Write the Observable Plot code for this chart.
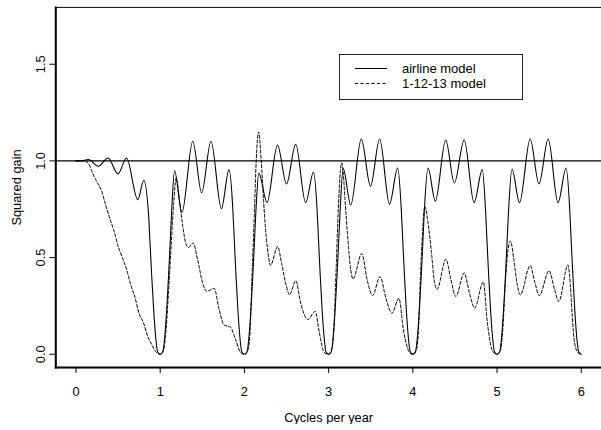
<!DOCTYPE html>
<html>
<head>
<meta charset="utf-8">
<script src="https://cdn.jsdelivr.net/npm/d3@7"></script>
<script src="https://cdn.jsdelivr.net/npm/@observablehq/plot@0.6"></script>
<style>
  html, body { margin: 0; padding: 0; background: #fff; }
  #wrap { position: relative; width: 601px; height: 430px; overflow: hidden; font-family: "Liberation Sans", Arial, sans-serif; }
  #legend { position: absolute; left: 339px; top: 54px; width: 182px; height: 44px; border: 1px solid #222; background: #fff; }
  #legend svg { display: block; }
  #chart svg { display: block; }
</style>
</head>
<body>
<div id="wrap"><div id="chart"></div><div id="legend"></div></div>
<script>
// ---- data ----
const seriesNames = ["airline model", "1-12-13 model"];
const xTicks = [0, 1, 2, 3, 4, 5, 6];
const yTicks = [0, 0.5, 1, 1.5];
const refLevel = [1];

const airlineFreq = [0, 0.05, 0.15, 0.265, 0.38, 0.5, 0.6, 0.734, 0.805,
  0.8625, 0.88, 0.9, 0.92, 0.942, 0.97, 1.0, 1.03, 1.058, 1.08, 1.1, 1.12, 1.1375,
  1.17, 1.258, 1.387, 1.492, 1.603, 1.727, 1.817,
  1.8625, 1.88, 1.9, 1.92, 1.942, 1.97, 2.0, 2.03, 2.058, 2.08, 2.1, 2.12, 2.1375,
  2.172, 2.268, 2.393, 2.5, 2.609, 2.727, 2.82,
  2.8625, 2.88, 2.9, 2.92, 2.942, 2.97, 3.0, 3.03, 3.058, 3.08, 3.1, 3.12, 3.1375,
  3.173, 3.263, 3.388, 3.497, 3.606, 3.723, 3.82,
  3.8625, 3.88, 3.9, 3.92, 3.942, 3.97, 4.0, 4.03, 4.058, 4.08, 4.1, 4.12, 4.1375,
  4.18, 4.267, 4.39, 4.493, 4.61, 4.727, 4.825,
  4.8625, 4.88, 4.9, 4.92, 4.942, 4.97, 5.0, 5.03, 5.058, 5.08, 5.1, 5.12, 5.1375,
  5.177, 5.267, 5.393, 5.498, 5.607, 5.724, 5.82,
  5.8625, 5.88, 5.9, 5.92, 5.942, 5.97, 6.0];
const airlineGain = [1.0, 1.0, 1.007, 0.972, 1.015, 0.933, 1.015, 0.80, 0.90,
  0.72, 0.57, 0.40, 0.25, 0.11, 0.012, 0, 0.012, 0.11, 0.25, 0.41, 0.59, 0.75,
  0.949, 0.733, 1.102, 0.835, 1.102, 0.753, 0.955,
  0.75, 0.59, 0.41, 0.25, 0.11, 0.012, 0, 0.012, 0.11, 0.25, 0.41, 0.59, 0.75,
  0.937, 0.784, 1.082, 0.881, 1.086, 0.784, 0.941,
  0.75, 0.59, 0.41, 0.25, 0.11, 0.012, 0, 0.012, 0.11, 0.25, 0.41, 0.59, 0.75,
  0.96, 0.772, 1.113, 0.869, 1.113, 0.776, 0.963,
  0.75, 0.59, 0.41, 0.25, 0.11, 0.012, 0, 0.012, 0.11, 0.25, 0.41, 0.59, 0.75,
  0.963, 0.792, 1.108, 0.886, 1.108, 0.784, 0.955,
  0.75, 0.59, 0.41, 0.25, 0.11, 0.012, 0, 0.012, 0.11, 0.25, 0.41, 0.59, 0.75,
  0.958, 0.784, 1.113, 0.881, 1.113, 0.784, 0.963,
  0.75, 0.59, 0.41, 0.25, 0.11, 0.012, 0];

const m1213Freq = [0, 0.1, 0.15, 0.2, 0.25, 0.3, 0.35, 0.4, 0.45, 0.5, 0.55, 0.6, 0.65, 0.7, 0.75, 0.8, 0.85, 0.9, 0.95, 1.0,
  1.04, 1.07, 1.1, 1.13, 1.16, 1.19, 1.23, 1.27, 1.30, 1.335, 1.39, 1.446, 1.505, 1.555, 1.641, 1.70, 1.76, 1.8, 1.835, 1.894, 1.953, 2.0,
  2.04, 2.065, 2.09, 2.12, 2.14, 2.168, 2.2, 2.228, 2.256, 2.287, 2.31, 2.395, 2.442, 2.5, 2.535, 2.61, 2.668, 2.754, 2.84, 2.89, 2.93, 2.96, 3.0,
  3.04, 3.065, 3.09, 3.115, 3.14, 3.157, 3.175, 3.196, 3.224, 3.263, 3.29, 3.393, 3.458, 3.522, 3.61, 3.68, 3.751, 3.835, 3.887, 3.94, 3.97, 4.0,
  4.04, 4.065, 4.09, 4.115, 4.142, 4.18, 4.22, 4.258, 4.287, 4.393, 4.45, 4.51, 4.61, 4.67, 4.735, 4.836, 4.885, 4.937, 4.97, 5.0,
  5.04, 5.065, 5.1, 5.13, 5.16, 5.2, 5.237, 5.276, 5.393, 5.45, 5.5, 5.618, 5.68, 5.732, 5.842, 5.87, 5.893, 5.92, 5.96, 6.0];
const m1213Gain = [1.0, 1.0, 0.985, 0.935, 0.89, 0.85, 0.775, 0.705, 0.64, 0.56, 0.5, 0.44, 0.36, 0.295, 0.21, 0.165, 0.095, 0.05, 0.012, 0,
  0.02, 0.13, 0.33, 0.56, 0.78, 0.912, 0.793, 0.657, 0.58, 0.552, 0.575, 0.486, 0.367, 0.325, 0.341, 0.231, 0.15, 0.146, 0.14, 0.078, 0.01, 0,
  0.02, 0.1, 0.4, 0.75, 1.0, 1.15, 1.0, 0.79, 0.622, 0.503, 0.46, 0.557, 0.469, 0.35, 0.308, 0.38, 0.265, 0.18, 0.222, 0.112, 0.027, 0.005, 0,
  0.03, 0.15, 0.45, 0.75, 0.95, 0.99, 0.93, 0.79, 0.622, 0.435, 0.389, 0.52, 0.384, 0.304, 0.401, 0.29, 0.212, 0.289, 0.129, 0.027, 0.005, 0,
  0.02, 0.11, 0.40, 0.63, 0.765, 0.68, 0.53, 0.37, 0.336, 0.492, 0.39, 0.299, 0.42, 0.32, 0.239, 0.375, 0.163, 0.027, 0.005, 0,
  0.02, 0.11, 0.38, 0.54, 0.585, 0.486, 0.367, 0.307, 0.458, 0.37, 0.303, 0.432, 0.34, 0.273, 0.461, 0.36, 0.197, 0.06, 0.008, 0];

// ---- tables built from the arrays ----
const airline = airlineFreq.map((f, i) => ({freq: f, gain: airlineGain[i]}));
const m1213 = m1213Freq.map((f, i) => ({freq: f, gain: m1213Gain[i]}));

const FONT = '"Liberation Sans", Arial, Helvetica, sans-serif';

const chart = Plot.plot({
  width: 609,
  height: 430,
  marginLeft: 56,
  marginRight: 0,
  marginTop: 7,
  marginBottom: 58,
  x: {domain: [-0.24, 6.24]},
  y: {domain: [-0.069, 1.794]},
  style: {fontFamily: FONT, fontSize: "13px", background: "#fff", color: "#000"},
  marks: [
    Plot.ruleY(refLevel, {stroke: "#000", strokeWidth: 1.2}),
    Plot.line(airline, {x: "freq", y: "gain", curve: "monotone-x", stroke: "#000", strokeWidth: 1.1}),
    Plot.line(m1213, {x: "freq", y: "gain", curve: "monotone-x", stroke: "#000", strokeWidth: 1, strokeDasharray: "3,2"}),
    Plot.frame({stroke: "#000", strokeWidth: 1}),
    Plot.frame({anchor: "left", stroke: "#000", strokeWidth: 2}),
    Plot.frame({anchor: "bottom", stroke: "#000", strokeWidth: 2}),
    Plot.axisX({ticks: xTicks, tickSize: 6, tickPadding: 14, tickFormat: d => String(d),
      label: "Cycles per year", labelAnchor: "center", labelOffset: 55, labelArrow: "none", fontSize: 13}),
    Plot.axisY({ticks: yTicks, tickSize: 6, tickPadding: 5, tickRotate: -90, tickFormat: d => d.toFixed(1),
      label: "Squared gain", labelAnchor: "center", labelOffset: 44, labelArrow: "none", fontSize: 13})
  ]
});
document.getElementById("chart").appendChild(chart);

// ---- legend (inside the plot area, as in the reference) ----
const lg = d3.select("#legend").append("svg").attr("width", 182).attr("height", 44)
  .style("font-family", FONT).style("font-size", "13px");
const dashes = [null, "3,2.5"];
seriesNames.forEach((name, i) => {
  const yy = 13.5 + i * 15;
  lg.append("line").attr("x1", 15).attr("x2", 47).attr("y1", yy).attr("y2", yy)
    .attr("stroke", "#000").attr("stroke-width", 1).attr("stroke-dasharray", dashes[i]);
  lg.append("text").attr("x", 62).attr("y", yy + 4).attr("fill", "#000").text(name);
});
</script>
</body>
</html>
